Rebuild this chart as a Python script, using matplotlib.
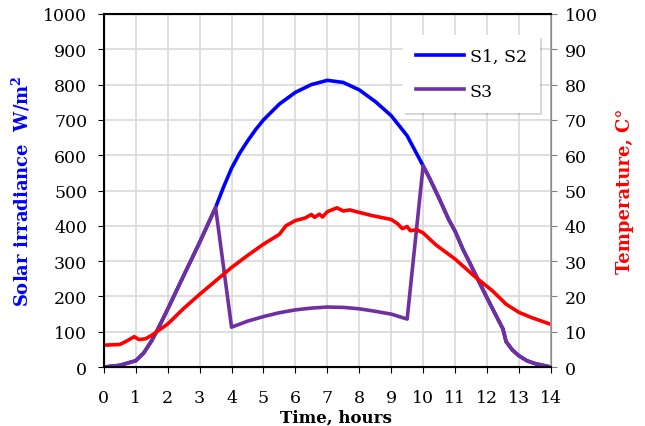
import matplotlib
matplotlib.use("Agg")
from matplotlib import pyplot as plt

plt.rcParams['font.family'] = ['DejaVu Serif']

# sunrise part, shared by all stations
t_rise = [0, 0.5, 1, 1.25, 1.5, 1.75, 2, 2.5, 3, 3.5]
irr_rise = [0, 5, 18, 40, 75, 118, 164, 259, 353, 452]

# midday, unshaded (S1, S2)
t_mid = [3.75, 4, 4.25, 4.5, 4.75, 5, 5.5, 6, 6.5, 7, 7.5, 8, 8.5, 9, 9.5]
irr_mid_s12 = [510, 563, 605, 640, 672, 700, 745, 778, 800, 812, 806, 785, 752, 712, 655]

# midday, shaded (S3)
t_mid_s3 = [4, 4.5, 5, 5.5, 6, 6.5, 7, 7.5, 8, 8.5, 9, 9.5]
irr_mid_s3 = [113, 130, 143, 154, 162, 167, 170, 169, 165, 158, 150, 136]

# afternoon, shared
t_set = [10, 10.2, 10.5, 10.8, 11, 11.25, 11.5, 11.75, 12, 12.25, 12.5, 12.6, 12.8, 13, 13.25, 13.5, 13.75, 14]
irr_set = [570, 535, 478, 418, 385, 333, 288, 242, 196, 152, 108, 72, 48, 32, 18, 10, 5, 0]

# ambient temperature
t_temp = [0, 0.5, 0.7, 0.95, 1.1, 1.3, 1.5, 2, 2.5, 3, 3.5, 4, 4.5, 5, 5.5, 5.7, 6, 6.3,
          6.5, 6.6, 6.75, 6.85, 7, 7.3, 7.5, 7.7, 8, 8.4, 9, 9.2, 9.35, 9.5, 9.6, 9.8,
          10, 10.4, 11, 11.65, 12.17, 12.6, 13, 13.4, 14]
temp = [6.2, 6.4, 7.3, 8.6, 7.8, 8.0, 9.0, 12.2, 16.6, 20.6, 24.4, 28.2, 31.6, 34.8, 37.6, 40.0, 41.5, 42.2,
        43.2, 42.4, 43.3, 42.5, 44.0, 45.1, 44.2, 44.5, 43.8, 42.9, 41.8, 40.6, 39.2, 39.8, 38.6, 38.9,
        38.0, 34.6, 30.6, 25.4, 21.6, 17.8, 15.5, 14.0, 12.1]

t_s12 = t_rise + t_mid + t_set
irr_s12 = irr_rise + irr_mid_s12 + irr_set
t_s3 = t_rise + t_mid_s3 + t_set
irr_s3 = irr_rise + irr_mid_s3 + irr_set

fig = plt.figure(figsize=(6.45, 4.27), dpi=100)
ax = fig.add_axes([0.161, 0.138, 0.693, 0.827])
ax2 = ax.twinx()

l1, = ax.plot(t_s12, irr_s12, color='#0000FF', lw=2.6, label='S1, S2')
l2, = ax.plot(t_s3, irr_s3, color='#7030A0', lw=2.6, label='S3')
ax2.plot(t_temp, temp, color='#FF0000', lw=2.6)

ax.set_xlim(0, 14)
ax.set_ylim(0, 1000)
ax2.set_ylim(0, 100)
ax.set_xticks(range(0, 15))
ax.set_yticks(range(0, 1001, 100))
ax2.set_yticks(range(0, 101, 10))
ax.grid(True, color='#D9D9D9', lw=1.2)
ax.set_axisbelow(True)

for a in (ax, ax2):
    a.tick_params(labelsize=12.5, length=4, pad=6, direction='out')
ax.tick_params(axis='x', pad=12)
ax.tick_params(axis='y', pad=8)
ax2.tick_params(axis='y', colors='#808080', labelcolor='black')
for s in ('left', 'bottom', 'top'):
    ax2.spines[s].set_linewidth(1.5)
    ax2.spines[s].set_color('black')
ax2.spines['right'].set_color('#A6A6A6')
ax2.spines['right'].set_linewidth(1.2)

ax.set_xlabel('Time, hours', fontsize=12, fontweight='bold', labelpad=1)
ax.xaxis.set_label_coords(0.52, -0.118)
ax.set_ylabel('Solar irradiance  W/m$^\\mathregular{2}$', fontsize=13, fontweight='bold',
              color='#0000FF', labelpad=8)
ax2.set_ylabel('Temperature, C°', fontsize=13, fontweight='bold', color='#FF0000', labelpad=13)

leg = ax2.legend(handles=[l1, l2], loc='upper right', bbox_to_anchor=(0.975, 0.94),
                 fontsize=12.5, frameon=True, fancybox=False,
                 shadow={'color': '#000000', 'alpha': 0.15, 'ox': 2, 'oy': -2},
                 handlelength=2.8, handletextpad=0.3, labelspacing=1.0,
                 borderpad=0.75, borderaxespad=0)
leg.get_frame().set_edgecolor('white')
leg.get_frame().set_linewidth(0)
leg.get_frame().set_alpha(1)

fig.savefig('out.png', dpi=100)
